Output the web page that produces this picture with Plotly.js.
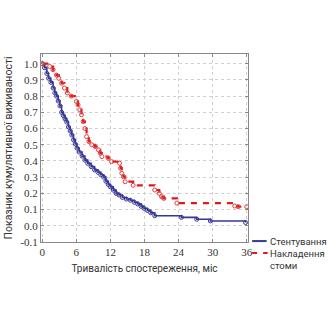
<!DOCTYPE html>
<html><head><meta charset="utf-8">
<script src="https://cdn.plot.ly/plotly-3.0.1.min.js"></script>
<style>html,body{margin:0;padding:0;background:#fff}#chart{width:330px;height:330px}</style>
</head><body><div id="chart"></div>
<script>
// Стентування (blue)
const stentT = [0, 0.4, 0.8, 1.1, 1.5, 1.9, 2.2, 2.5, 2.8, 3.1, 3.4, 3.7, 4.0, 4.3, 4.6, 4.9, 5.2, 5.5, 5.8, 6.1, 6.5, 7.0, 7.5, 8.0, 8.6, 9.2, 9.8, 10.3, 10.8, 11.2, 11.6, 12.0, 12.5, 13.0, 13.5, 14.1, 14.8, 15.5, 16.2, 16.8, 17.4, 17.9, 18.5, 19.1, 19.8, 24.5, 27.2, 29.6, 35.8];
const stentS = [1.0, 0.975, 0.94, 0.91, 0.885, 0.85, 0.82, 0.80, 0.77, 0.74, 0.70, 0.68, 0.66, 0.64, 0.61, 0.585, 0.56, 0.53, 0.505, 0.48, 0.455, 0.43, 0.405, 0.385, 0.365, 0.345, 0.33, 0.315, 0.30, 0.275, 0.255, 0.24, 0.22, 0.20, 0.19, 0.175, 0.165, 0.158, 0.145, 0.135, 0.12, 0.108, 0.095, 0.08, 0.062, 0.052, 0.04, 0.03, 0.02];
// Накладення стоми (red)
const stomaT = [0, 1.3, 1.9, 2.5, 2.9, 3.4, 3.9, 4.4, 5.1, 6.0, 6.3, 6.6, 6.9, 7.2, 7.5, 7.8, 8.2, 8.7, 9.3, 9.9, 10.2, 10.5, 11.6, 12.2, 13.6, 13.8, 14.0, 14.3, 14.6, 16.0, 19.8, 20.6, 21.0, 21.4, 23.7, 33.9, 34.5, 36];
const stomaS = [1.0, 0.983, 0.963, 0.93, 0.91, 0.88, 0.85, 0.82, 0.80, 0.767, 0.746, 0.716, 0.685, 0.643, 0.60, 0.55, 0.52, 0.50, 0.489, 0.468, 0.448, 0.427, 0.417, 0.396, 0.386, 0.355, 0.324, 0.303, 0.272, 0.25, 0.221, 0.20, 0.18, 0.169, 0.14, 0.122, 0.118, 0.118];

const xTicks = [0, 6, 12, 18, 24, 30, 36];
const yTicks = [-0.1, 0.0, 0.1, 0.2, 0.3, 0.4, 0.5, 0.6, 0.7, 0.8, 0.9, 1.0];
const seriesNames = ['Стентування', 'Накладення<br>стоми'];

const blue = 'rgb(55,55,150)';
const red = 'rgb(225,25,25)';
const sans = 'Roboto, "Liberation Sans", sans-serif';
const tickFont = {family: '"Liberation Serif", serif', size: 11, color: '#333'};

const traces = [
  {x: stentT, y: stentS, mode: 'lines+markers', line: {shape: 'hv', color: blue, width: 1.6},
   marker: {symbol: 'circle-open', size: 4, color: blue, line: {width: 1}}, name: seriesNames[0]},
  {x: stomaT, y: stomaS, mode: 'lines+markers', line: {shape: 'hv', color: red, width: 2.2, dash: '6px,6px'},
   marker: {symbol: 'circle-open', size: 4, color: 'rgb(225,60,60)', line: {width: 1}}, name: seriesNames[1]}
];

const ax = {
  showline: true, linecolor: '#888', linewidth: 1, mirror: 'ticks',
  ticks: 'inside', ticklen: 3, tickcolor: '#888',
  showgrid: true, gridcolor: '#d0d0d0', griddash: 'dot', gridwidth: 1,
  zeroline: false, tickfont: tickFont
};

const layout = {
  width: 330, height: 330,
  margin: {l: 41, r: 82, t: 54, b: 88},
  paper_bgcolor: '#fff', plot_bgcolor: '#fff',
  showlegend: false,
  xaxis: Object.assign({}, ax, {range: [-0.23, 36.23], tickvals: xTicks, ticktext: xTicks.map(String),
    title: {text: 'Тривалість спостереження, міс', font: {family: sans, size: 10, color: '#333'}, standoff: 7}}),
  yaxis: Object.assign({}, ax, {range: [-0.1, 1.06], tickvals: yTicks, ticktext: yTicks.map(v => v.toFixed(1)),
    title: {text: 'Показник кумулятивної виживаності', font: {family: sans, size: 10.5, color: '#333'}, standoff: 5}}),
  shapes: [
    {type: 'line', xref: 'paper', yref: 'paper', x0: 1.02, x1: 1.09, y0: 0.005, y1: 0.005, line: {color: blue, width: 2}},
    {type: 'line', xref: 'paper', yref: 'paper', x0: 1.02, x1: 1.095, y0: -0.0585, y1: -0.0585, line: {color: red, width: 2.2, dash: '5px,6px'}}
  ],
  annotations: [
    {xref: 'paper', yref: 'paper', x: 1.095, y: 0.005, xanchor: 'left', yanchor: 'middle', showarrow: false, text: seriesNames[0], font: {family: sans, size: 9.5, color: '#333'}},
    {xref: 'paper', yref: 'paper', x: 1.095, y: -0.0585, xanchor: 'left', yanchor: 'top', yshift: 7, showarrow: false, align: 'left', text: seriesNames[1], font: {family: sans, size: 9.5, color: '#333'}}
  ]
};

Plotly.newPlot('chart', traces, layout, {displayModeBar: false, staticPlot: true});
</script>
</body></html>
